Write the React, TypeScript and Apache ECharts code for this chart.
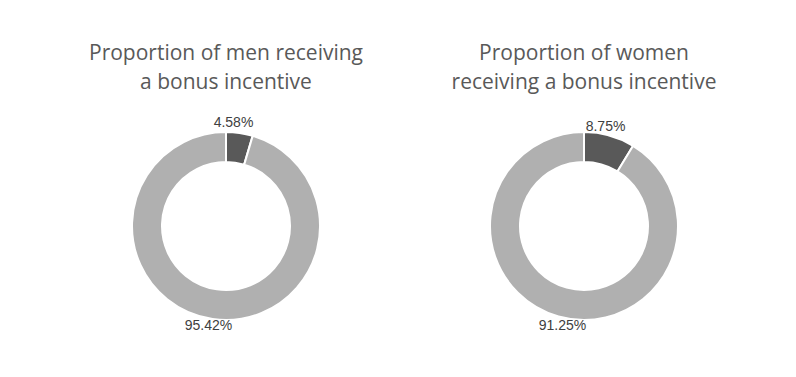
import React, { useEffect, useRef } from "react";
import * as echarts from "echarts";

const categories = ["Receiving bonus", "Not receiving bonus"];
const menValues = [4.58, 95.42];
const womenValues = [8.75, 91.25];
const titles = [
  "Proportion of men receiving\na bonus incentive",
  "Proportion of women\nreceiving a bonus incentive",
];
const sliceColors = ["#595959", "#B0B0B0"];
// small nudges of the data labels from the slice's outer mid-point (px)
const labelNudges = [
  [[-6, -11], [-4, 6]],
  [[-4, -10], [4, 9]],
];

export default function App() {
  const ref = useRef<HTMLDivElement>(null);
  useEffect(() => {
    if (!ref.current) return;
    const chart = echarts.init(ref.current, undefined, { renderer: "svg" });
    const makeSeries = (values: number[], cx: number, si: number) => ({
      type: "pie",
      center: [cx, 226],
      radius: [64, 94],
      startAngle: 90,
      clockwise: true,
      avoidLabelOverlap: false,
      itemStyle: { borderColor: "#ffffff", borderWidth: 2 },
      label: {
        show: true,
        position: "outside",
        formatter: (p: any) => p.value.toFixed(2) + "%",
        color: "#404040",
        fontSize: 14,
        fontFamily: "Liberation Sans, Arial, sans-serif",
      },
      labelLine: {
        show: true,
        length: 0,
        length2: 0,
        lineStyle: { width: 0, opacity: 0 },
      },
      labelLayout: (p: any) => {
        const n = labelNudges[si][p.dataIndex];
        const pts = p.labelLinePoints;
        let x: number, y: number;
        if (pts && pts[0]) {
          x = pts[0][0];
          y = pts[0][1];
        } else {
          x = p.labelRect.x + p.labelRect.width / 2;
          y = p.labelRect.y + p.labelRect.height / 2;
        }
        return {
          x: x + n[0],
          y: y + n[1],
          align: "center",
          verticalAlign: "middle",
        };
      },
      emphasis: { disabled: true },
      data: categories.map((name, i) => ({
        name,
        value: values[i],
        itemStyle: { color: sliceColors[i] },
      })),
    });
    chart.setOption({
      animation: false,
      backgroundColor: "#ffffff",
      graphic: titles.map((t, i) => ({
        type: "text",
        x: i === 0 ? 226 : 584,
        y: 37,
        style: {
          text: t,
          textAlign: "center",
          textVerticalAlign: "top",
          fill: "#595959",
          fontSize: 21,
          lineHeight: 29,
          fontFamily: "Open Sans, sans-serif",
        },
      })),
      series: [makeSeries(menValues, 226, 0), makeSeries(womenValues, 584, 1)],
    });
    return () => chart.dispose();
  }, []);
  return (
    <div
      ref={ref}
      style={{ position: "fixed", left: 0, top: 0, width: 796, height: 377 }}
    />
  );
}
